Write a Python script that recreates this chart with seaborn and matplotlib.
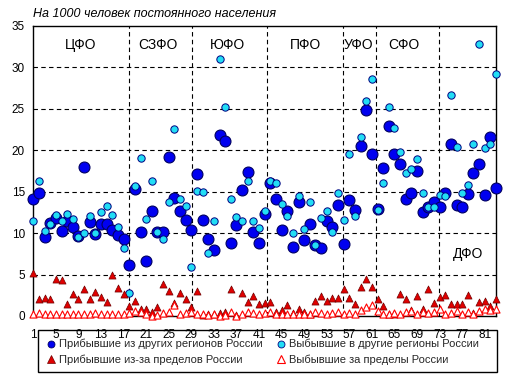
import matplotlib
matplotlib.use('Agg')
import matplotlib.pyplot as plt
import seaborn as sns
import pandas as pd
from matplotlib.lines import Line2D
from matplotlib.patches import Rectangle

# ---------------- data ----------------
region_no = list(range(1, 84))

arrived_regions = [14.1, 14.9, 9.55, 11.2, 11.8, 10.3, 11.5, 10.8, 9.6, 18.0,
                   11.35, 9.95, 11.1, 11.1, 10.4, 9.8, 9.3, 6.1, 15.3, 10.15,
                   6.65, 12.7, 10.1, 10.15, 19.2, 14.25, 12.7, 11.6, 10.4, 17.15,
                   11.6, 9.3, 8.0, 21.9, 21.1, 8.8, 10.95, 15.2, 17.35, 10.15,
                   8.8, 12.3, 16.1, 14.1, 10.4, 12.7, 8.35, 13.8, 9.2, 11.1,
                   8.55, 8.2, 11.5, 10.75, 13.4, 8.75, 14.0, 12.8, 20.5, 24.85,
                   19.5, 12.9, 17.9, 22.95, 19.5, 18.4, 14.1, 14.85, 17.5, 12.55,
                   13.1, 13.7, 13.1, 14.85, 20.7, 13.45, 13.15, 14.75, 17.3, 18.4,
                   14.65, 21.65, 15.45]

departed_regions = [11.5, 16.3, 10.3, 11.15, 12.15, 11.5, 12.35, 11.7, 9.55, 10.05,
                    12.1, 10.0, 12.5, 13.3, 12.15, 10.75, 8.2, 2.8, 15.7, 19.1,
                    11.7, 16.3, 10.15, 9.3, 13.8, 22.6, 14.1, 13.25, 5.9, 15.1,
                    15.0, 7.6, 11.5, 31.0, 25.25, 14.1, 11.95, 11.5, 16.3, 11.5,
                    10.6, 12.65, 16.3, 16.0, 13.5, 12.05, 10.05, 14.5, 10.5, 13.8,
                    8.6, 11.85, 12.7, 10.15, 14.8, 11.55, 19.5, 12.05, 21.6, 25.95,
                    28.6, 12.8, 16.0, 25.25, 22.7, 19.8, 17.2, 17.8, 19.0, 14.85,
                    13.1, 13.1, 14.65, 14.5, 26.7, 20.4, 14.8, 15.85, 20.75, 32.8,
                    20.3, 20.8, 29.15]

arrived_abroad = [5.2, 2.1, 2.2, 2.1, 4.5, 4.4, 1.4, 2.6, 2.1, 3.2,
                  2.0, 2.95, 2.3, 1.65, 5.0, 3.4, 2.6, 1.2, 1.8, 0.9,
                  0.9, 0.5, 1.1, 3.9, 3.0, 1.6, 2.8, 2.1, 1.1, 3.0,
                  0.1, 0.2, 0.3, 0.35, 0.5, 3.3, 0.1, 2.8, 1.7, 2.4,
                  1.5, 1.6, 1.7, 0.5, 0.7, 1.3, 0.35, 0.9, 0.5, 0.3,
                  1.8, 2.4, 1.8, 2.2, 2.2, 3.2, 2.2, 1.5, 3.5, 4.5,
                  3.5, 2.1, 1.2, 0.3, 0.3, 2.6, 2.1, 0.7, 2.4, 0.9,
                  3.2, 1.6, 2.3, 2.5, 1.4, 1.5, 1.4, 2.5, 0.35, 1.7,
                  1.8, 1.2, 2.1]

departed_abroad = [0.3, 0.4, 0.2, 0.2, 0.3, 0.2, 0.3, 0.2, 0.3, 0.3,
                   0.2, 0.4, 0.2, 0.3, 0.2, 0.3, 0.2, 0.4, 0.6, 0.5,
                   0.2, 0.0, 0.1, 0.4, 0.5, 1.3, 0.3, 0.4, 0.5, 0.3,
                   0.3, 0.1, 0.2, 0.0, 0.1, 0.5, 0.0, 0.3, 0.5, 0.4,
                   0.3, 0.4, 0.5, 0.2, 0.3, 0.3, 0.2, 0.3, 0.2, 0.3,
                   0.5, 0.4, 0.3, 0.4, 0.5, 0.3, 0.4, 0.3, 0.7, 1.1,
                   1.3, 0.6, 0.3, 0.2, 0.4, 0.3, 0.5, 0.6, 0.3, 0.5,
                   0.4, 0.5, 0.9, 0.3, 0.4, 0.6, 0.3, 0.5, 0.3, 0.6,
                   0.8, 0.7, 0.9]

district_names = ['ЦФО', 'СЗФО', 'ЮФО', 'ПФО', 'УФО', 'СФО', 'ДФО']
series_labels = ['Прибывшие из других регионов России',
                 'Выбывшие в другие регионы России',
                 'Прибывшие из-за пределов России',
                 'Выбывшие за пределы России']
title_text = 'На 1000 человек постоянного населения'

# ---------------- layout / style ----------------
divider_pos = [18.0, 29.05, 42.5, 55.9, 61.7, 72.9]
label_pos = [(9.3, 32.75), (23.1, 32.75), (35.4, 32.75), (49.2, 32.75),
             (58.7, 32.75), (66.7, 32.75), (78.1, 7.5)]

sns.set_theme(style='white')
plt.rcParams['font.family'] = ['Liberation Sans', 'DejaVu Sans']

W, H = 514, 377
fig = plt.figure(figsize=(W / 100, H / 100), dpi=100)
ax = fig.add_axes([33.3 / W, 1 - 316 / H, (496 - 33.3) / W, (316 - 26) / H])

df = pd.DataFrame({'n': region_no, 'a': arrived_regions, 'd': departed_regions,
                   'aa': arrived_abroad, 'da': departed_abroad})

blue_f, blue_e = '#0000F0', '#000060'
cyan_f, cyan_e = '#22DDF5', '#000080'
red_f, red_e = '#E00000', '#700000'
wt_f, wt_e = '#FFFFFF', '#FF0000'

sns.scatterplot(data=df, x='n', y='a', ax=ax, marker='o', s=62, color=blue_f,
                edgecolor=blue_e, linewidth=0.8, clip_on=False, zorder=3, legend=False)
sns.scatterplot(data=df, x='n', y='d', ax=ax, marker='o', s=28, color=cyan_f,
                edgecolor=cyan_e, linewidth=0.7, clip_on=False, zorder=4, legend=False)
sns.scatterplot(data=df, x='n', y='aa', ax=ax, marker='^', s=26, color=red_f,
                edgecolor=red_e, linewidth=0.5, clip_on=False, zorder=5, legend=False)
sns.scatterplot(data=df, x='n', y='da', ax=ax, marker='^', s=26, color=wt_f,
                edgecolor=wt_e, linewidth=0.8, clip_on=False, zorder=6, legend=False)

ax.set_xlim(1, 83)
ax.set_ylim(0, 35)
ax.set_xticks(range(1, 84, 4))
ax.set_yticks(range(0, 36, 5))
ax.set_xlabel('')
ax.set_ylabel('')
ax.tick_params(axis='both', length=0, labelsize=8.5, colors='black')
ax.tick_params(axis='y', pad=6)
ax.tick_params(axis='x', pad=9)

dash = (0, (4, 3))
for y in range(5, 35, 5):
    ax.axhline(y, color='black', lw=0.8, ls=dash, zorder=1)
for xv in divider_pos:
    ax.axvline(xv, color='black', lw=0.8, ls=dash, zorder=1)

for sp in ax.spines.values():
    sp.set_color('black')
    sp.set_linewidth(1.0)

for name, (xx, yy) in zip(district_names, label_pos):
    ax.text(xx, yy, name, ha='center', va='center', fontsize=10, color='black', zorder=7)

fig.text(33 / W, 1 - 14 / H, title_text, ha='left', va='center', fontsize=9,
         style='italic', color='black')

# legend box
fig.patches.append(Rectangle((38.3 / W, 5 / H), (496.7 - 38.3) / W, 42 / H,
                             transform=fig.transFigure, fill=False,
                             edgecolor='black', linewidth=1.0))

h_blue = Line2D([], [], ls='none', marker='o', ms=5, mfc=blue_f, mec=blue_e, mew=0.6)
h_cyan = Line2D([], [], ls='none', marker='o', ms=5, mfc=cyan_f, mec=cyan_e, mew=0.6)
h_red = Line2D([], [], ls='none', marker='^', ms=6, mfc=red_f, mec=red_e, mew=0.5)
h_wt = Line2D([], [], ls='none', marker='^', ms=6, mfc=wt_f, mec=wt_e, mew=0.8)

common = dict(frameon=False, fontsize=8, handlelength=0.8, handletextpad=0.3,
              labelspacing=0.45, borderpad=0, borderaxespad=0, loc='upper left')
fig.legend([h_blue, h_red], [series_labels[0], series_labels[2]],
           bbox_to_anchor=(47 / W, 1 - 339 / H), **common)
fig.legend([h_cyan, h_wt], [series_labels[1], series_labels[3]],
           bbox_to_anchor=(277 / W, 1 - 339 / H), **common)

fig.savefig('out.png', dpi=100)
